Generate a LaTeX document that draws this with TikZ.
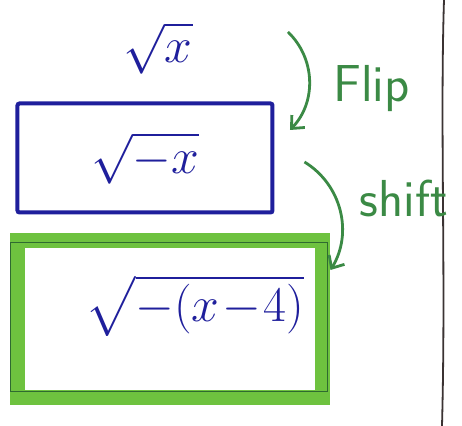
\documentclass[tikz,border=0pt]{standalone}
\usepackage{amsmath,amssymb}
\usetikzlibrary{arrows.meta,calc,positioning}
\definecolor{penblue}{HTML}{1F1F9C}
\definecolor{pengreen}{HTML}{3B8A45}
\definecolor{marker}{HTML}{6EC23F}
\definecolor{darkgreen}{HTML}{2F6A30}
\definecolor{marginink}{HTML}{3B3333}
\definecolor{paper}{HTML}{FFFFFF}
\tikzset{
  flowarr/.style={-{Straight Barb[length=5pt,width=9pt]},line width=1.4pt,color=pengreen},
  bluecard/.style={draw=penblue,line width=2pt,minimum width=127.5pt,minimum height=54.5pt,inner sep=0pt,outer sep=0pt,rounded corners=1pt},
  greencard/.style={draw=marker,line width=7.5pt,minimum width=152.5pt,minimum height=78.5pt,inner sep=0pt,outer sep=0pt},
  formula/.style={text=penblue,font=\fontsize{26}{30}\selectfont},
  steplabel/.style={text=pengreen,font=\fontsize{26}{30}\selectfont\sffamily}
}
\begin{document}
\begin{tikzpicture}[x=0.5pt,y=0.5pt,>=Latex]
  \useasboundingbox[fill=paper] (0,0) rectangle (462,426);
  % margin rule
  \draw[marginink,line width=0.9pt] (444,426) .. controls (440,300) and (446,150) .. (442,0);
  \node[formula,font=\fontsize{29}{32}\selectfont,inner sep=1pt] (rootx) at (158,378) {$\sqrt{x}$};
  \node[bluecard,formula] (rootnegx) at (145,268) {$\sqrt{-x}$};
  \node[greencard] (shiftbox) at (170,107) {};
  \draw[darkgreen,line width=0.8pt] ([shift={(-7,-2)}]shiftbox.north west) rectangle ([shift={(5,6)}]shiftbox.south east);
  \node[formula,font=\fontsize{25}{30}\selectfont] (rootshift) at (195,120) {$\sqrt{-(x\!-\!4)}$};
  % steps
  \draw[flowarr] ([shift={(93,16)}]rootx.east) to[bend left=45]
    node[steplabel,midway,anchor=west,xshift=8pt,yshift=-4pt] {Flip} ([shift={(17.5,-26.5)}]rootnegx.north east);
  \draw[flowarr] ([shift={(32,-4)}]rootnegx.east) to[bend left=45]
    node[steplabel,midway,anchor=west,xshift=6pt,yshift=6pt] {shift} ([shift={(8,-29.5)}]shiftbox.north east);
\end{tikzpicture}
\end{document}
